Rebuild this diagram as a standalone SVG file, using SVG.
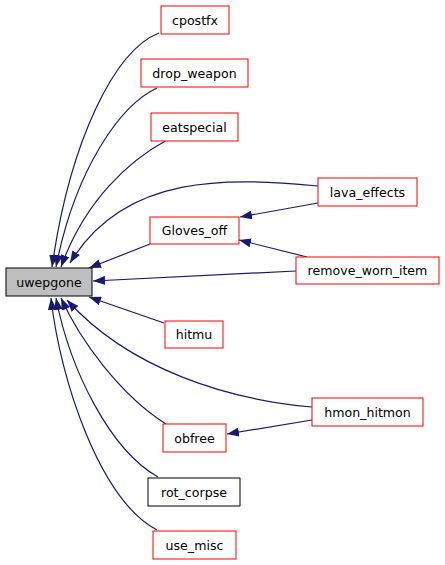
<svg xmlns="http://www.w3.org/2000/svg" width="445" height="565" viewBox="0 0 445 565">
<defs>
<marker id="ah" markerUnits="userSpaceOnUse" viewBox="0 0 12 9" refX="12" refY="4.5" markerWidth="12" markerHeight="9" orient="auto">
<path d="M0,0 L12,4.5 L0,9 z" fill="#191970"/>
</marker>
<style>
.n rect{fill:#fff;stroke:#ff0000;stroke-width:1}
.n text{font-family:"DejaVu Sans",sans-serif;font-size:12.6px;text-anchor:middle;fill:#000}
#edges path{fill:none;stroke:#191970;stroke-width:1.2;marker-end:url(#ah)}
</style>
</defs>
<rect width="445" height="565" fill="#fff"/>
<g id="edges">
<path d="M159,33 C115,50 70,140 52,267"/>
<path d="M157,88 C120,105 75,170 56,267"/>
<path d="M167,140 C130,160 85,200 61,267"/>
<path d="M318,186 C230,178 125,172 70,263"/>
<path d="M150,244 L89,268"/>
<path d="M296,271 L93,281"/>
<path d="M318,203 L240,217"/>
<path d="M307,257 L239,240"/>
<path d="M164,323 L89,297"/>
<path d="M312,407 C230,400 130,370 67,300"/>
<path d="M312,420 L227,434"/>
<path d="M166,424 C120,395 80,340 61,298"/>
<path d="M158,477 C110,450 70,370 56,298"/>
<path d="M157,530 C100,500 60,380 51,298"/>
</g>
<g id="uwepgone" class="n"><rect x="6" y="268" width="86" height="28" style="fill:#bfbfbf;stroke:#000"/><text x="49" y="286.5">uwepgone</text></g>
<g id="cpostfx" class="n"><rect x="161" y="6" width="68" height="28"/><text x="195" y="24.5">cpostfx</text></g>
<g id="drop_weapon" class="n"><rect x="141" y="59" width="107" height="28"/><text x="194.5" y="77.5">drop_weapon</text></g>
<g id="eatspecial" class="n"><rect x="151" y="113" width="87" height="28"/><text x="194.5" y="131.5">eatspecial</text></g>
<g id="lava_effects" class="n"><rect x="318" y="178" width="99" height="28"/><text x="367.5" y="196.5">lava_effects</text></g>
<g id="Gloves_off" class="n"><rect x="150" y="217" width="89" height="27"/><text x="194.5" y="235">Gloves_off</text></g>
<g id="remove_worn_item" class="n"><rect x="296" y="257" width="143" height="27"/><text x="367.5" y="275">remove_worn_item</text></g>
<g id="hitmu" class="n"><rect x="165" y="321" width="58" height="27"/><text x="194" y="339">hitmu</text></g>
<g id="hmon_hitmon" class="n"><rect x="312" y="398" width="111" height="28"/><text x="367.5" y="416.5">hmon_hitmon</text></g>
<g id="obfree" class="n"><rect x="163" y="424" width="63" height="28"/><text x="194.5" y="442.5">obfree</text></g>
<g id="rot_corpse" class="n"><rect x="148" y="478" width="92" height="28" style="stroke:#000"/><text x="194" y="496.5">rot_corpse</text></g>
<g id="use_misc" class="n"><rect x="153" y="531" width="83" height="28"/><text x="194.5" y="549.5">use_misc</text></g>
</svg>
